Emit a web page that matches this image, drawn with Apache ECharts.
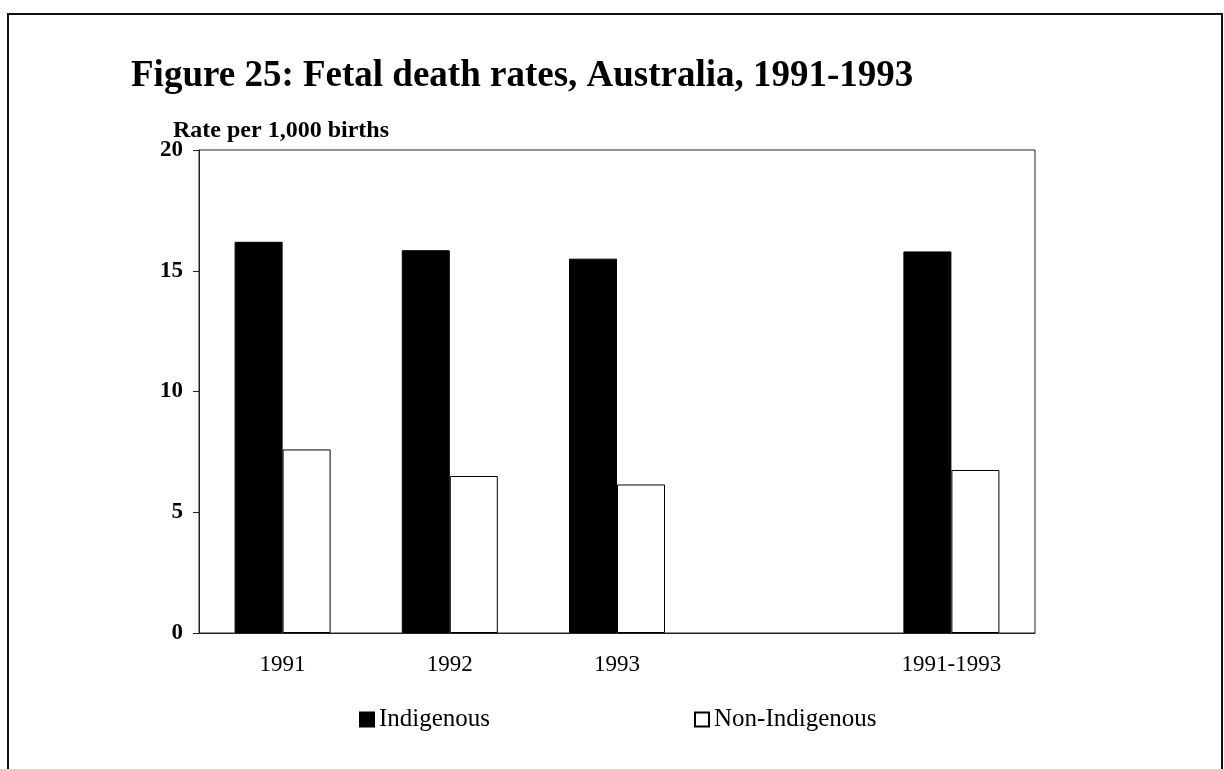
<!DOCTYPE html>
<html>
<head>
<meta charset="utf-8">
<script src="https://cdn.jsdelivr.net/npm/echarts@6/dist/echarts.min.js"></script>
<style>
  html, body { margin: 0; padding: 0; background: #fff; }
  #chart { width: 1224px; height: 769px; }
</style>
</head>
<body>
<div id="chart"></div>
<script>
// categories (the blank one is the gap before the 3-year total)
var years = ['1991', '1992', '1993', '', '1991-1993'];
var indigenous = [16.2, 15.85, 15.5, '-', 15.8];
var nonIndigenous = [7.6, 6.5, 6.15, '-', 6.75];
var yTicks = [0, 20, 5]; // min, max, interval

var serif = '"Liberation Serif", "DejaVu Serif", serif';

var chart = echarts.init(document.getElementById('chart'));

chart.setOption({
  backgroundColor: '#fff',
  animation: false,
  title: [{
    text: 'Figure 25: Fetal death rates, Australia, 1991-1993',
    left: 126,
    top: 53,
    textStyle: { fontFamily: serif, fontWeight: 'bold', fontSize: 37, color: '#000' }
  }, {
    text: 'Rate per 1,000 births',
    left: 168,
    top: 114,
    textStyle: { fontFamily: serif, fontWeight: 'bold', fontSize: 24, color: '#000' }
  }],
  graphic: [{
    type: 'rect',
    shape: { x: 8, y: 14, width: 1214, height: 800 },
    style: { fill: 'none', stroke: '#111', lineWidth: 2 }
  }],
  legend: [{
    data: ['Indigenous'],
    left: 354,
    top: 702,
    itemWidth: 14,
    itemHeight: 14,
    icon: 'rect',
    textStyle: { fontFamily: serif, fontSize: 25, color: '#000' }
  }, {
    data: ['Non-Indigenous'],
    left: 689,
    top: 702,
    itemWidth: 14,
    itemHeight: 14,
    icon: 'rect',
    textStyle: { fontFamily: serif, fontSize: 25, color: '#000' }
  }],
  grid: {
    left: 199,
    right: 189,
    top: 150,
    bottom: 136,
    show: true,
    borderColor: '#222',
    borderWidth: 1,
    backgroundColor: 'transparent'
  },
  xAxis: {
    type: 'category',
    data: years,
    axisLine: { show: true, lineStyle: { color: '#222', width: 1 } },
    axisTick: { show: false },
    axisLabel: { fontFamily: serif, fontSize: 23, color: '#000', margin: 20 }
  },
  yAxis: {
    type: 'value',
    min: yTicks[0],
    max: yTicks[1],
    interval: yTicks[2],
    axisLine: { show: true, lineStyle: { color: '#222', width: 1 } },
    axisTick: { show: true, inside: false, length: 6, lineStyle: { color: '#222' } },
    splitLine: { show: false },
    axisLabel: { fontFamily: serif, fontWeight: 'bold', fontSize: 23, color: '#000', margin: 16 }
  },
  series: [{
    name: 'Indigenous',
    type: 'bar',
    data: indigenous,
    barWidth: 48,
    barGap: '0%',
    itemStyle: { color: '#000', borderColor: '#000', borderWidth: 1 }
  }, {
    name: 'Non-Indigenous',
    type: 'bar',
    data: nonIndigenous,
    barWidth: 48,
    barGap: '0%',
    itemStyle: { color: '#fff', borderColor: '#000', borderWidth: 1 }
  }]
});
</script>
</body>
</html>
